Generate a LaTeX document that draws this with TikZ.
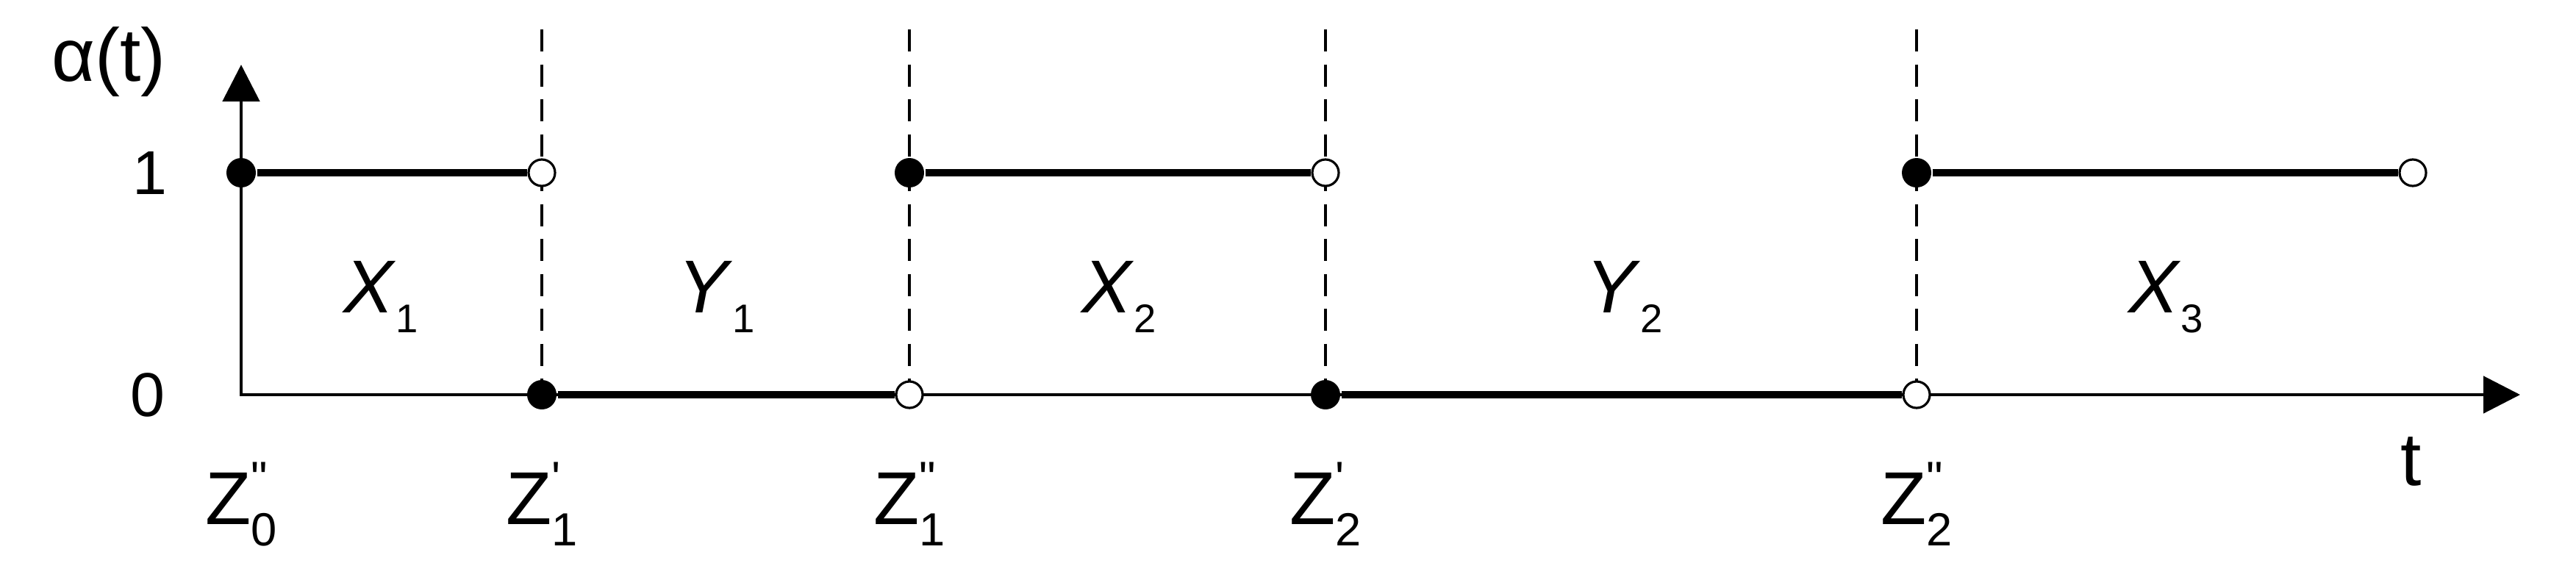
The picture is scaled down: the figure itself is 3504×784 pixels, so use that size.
\documentclass[tikz,border=0pt]{standalone}
\usepackage{fontspec}
\setmainfont{Liberation Sans}
\newfontfamily\tickfont{Liberation Sans}[Ligatures=TeXOff]
\usetikzlibrary{arrows.meta}

% Z with prime marks over its index
\newcommand{\zlab}[2]{Z\rlap{\raisebox{4.1mm}{\fontsize{18pt}{18pt}\selectfont\tickfont #1}}\raisebox{-2.9mm}{\fontsize{18pt}{18pt}\selectfont #2}}
% italic interval name with index
\newcommand{\ivlab}[2]{\textit{#1}\raisebox{-2.7mm}{\fontsize{15.5pt}{15.5pt}\selectfont #2}}

\begin{document}
\begin{tikzpicture}[
        x=0.1mm, y=-0.1mm,
        line width=1.4pt,
        >={Triangle[length=5mm,width=5mm]},
        every node/.style={font=\fontsize{29pt}{34pt}\selectfont},
        fdot/.style={circle, fill=black, inner sep=0pt, minimum size=4mm},
        odot/.style={circle, draw=black, fill=white, line width=0.9pt, inner sep=0pt, minimum size=3.6mm},
        thickseg/.style={line width=2.8pt},
        guide/.style={line width=0.9pt, dash pattern=on 3mm off 1.75mm},
        ticklab/.style={font=\fontsize{24pt}{28pt}\selectfont}
    ]
    \useasboundingbox (0,0) rectangle (3504,784);

    % Axes
    \coordinate (O) at (328,537);
    \coordinate (ytip) at (328,88);
    \coordinate (xtip) at (3428,537);
    \draw[<->] (ytip) -- (O) -- (xtip);

    % Dashed guides
    \foreach \x/\n in {737/1, 1237/2, 1803/3, 2607/4} {
      \coordinate (top\n) at (\x,40);
      \coordinate (bot\n) at (\x,537);
      \draw[guide] (top\n) -- (bot\n);
    }

    % Jump points
    \node[fdot] (f0) at (328,235) {};
    \node[odot] (o1) at (737,235) {};
    \node[fdot] (f1) at (737,537) {};
    \node[odot] (o2) at (1237,537) {};
    \node[fdot] (f2) at (1237,235) {};
    \node[odot] (o3) at (1803,235) {};
    \node[fdot] (f3) at (1803,537) {};
    \node[odot] (o4) at (2607,537) {};
    \node[fdot] (f4) at (2607,235) {};
    \node[odot] (o5) at (3282,235) {};

    % Levels of alpha
    \draw[thickseg] (f0) -- (o1);
    \draw[thickseg] (f1) -- (o2);
    \draw[thickseg] (f2) -- (o3);
    \draw[thickseg] (f3) -- (o4);
    \draw[thickseg] (f4) -- (o5);

    % Axis labels
    \node[anchor=base] (alab) at (148,110) {α(t)};
    \node[anchor=base] (tlab) at (3280,660) {t};
    \node[ticklab] (one) at (204,235) {1};
    \node[ticklab] (zero) at (201,537) {0};

    % Interval labels
    \node[anchor=base] (x1) at (518,425) {\ivlab{X}{1}};
    \node[anchor=base] (y1) at (975,425) {\ivlab{Y}{1}};
    \node[anchor=base] (x2) at (1522,425) {\ivlab{X}{2}};
    \node[anchor=base] (y2) at (2210,425) {\ivlab{Y}{2}};
    \node[anchor=base] (x3) at (2946,425) {\ivlab{X}{3}};

    % Time points
    \node[anchor=base] (z0) at (328,713) {\zlab{"}{0}};
    \node[anchor=base] (z1a) at (737,713) {\zlab{'}{1}};
    \node[anchor=base] (z1b) at (1237,713) {\zlab{"}{1}};
    \node[anchor=base] (z2a) at (1803,713) {\zlab{'}{2}};
    \node[anchor=base] (z2b) at (2607,713) {\zlab{"}{2}};
\end{tikzpicture}
\end{document}
